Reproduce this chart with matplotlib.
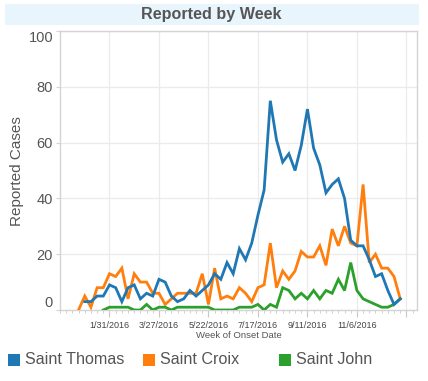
import numpy as np
import pandas as pd
import matplotlib
matplotlib.use("Agg")
import matplotlib.pyplot as plt
import matplotlib.dates as mdates
from matplotlib.patches import Rectangle

plt.rcParams['font.family'] = ['Liberation Sans', 'DejaVu Sans']

# ---- data (weekly, starting 2015-12-27) ----
start_week = "2015-12-27"
n_weeks = 53
nan = np.nan
saint_thomas = [nan, 3, 3, 5, 5, 9, 8, 3, 8, 9, 4, 6, 5, 11, 10, 5, 3, 4, 7, 5, 7, 9, 13, 11,
                17, 13, 22, 18, 24, 34, 43, 75, 61, 53, 56, 50, 59, 72, 58, 52, 42, 45, 47,
                40, 25, 23, 23, 18, 12, 13, 7, 2, 4]
saint_croix = [0, 5, 1, 8, 8, 13, 12, 15, 4, 13, 10, 10, 6, 6, 2, 4, 6, 6, 6, 6, 13, 2, 15, 4,
               5, 4, 8, 6, 3, 8, 9, 24, 8, 14, 11, 14, 21, 19, 19, 23, 16, 29, 23, 30, 24, 23,
               45, 17, 20, 15, 15, 12, 4]
saint_john = [nan, nan, nan, nan, 0, 1, 1, 1, 1, 0, 0, 2, 0, 1, 1, 0, 1, 1, 1, 1, 1, 1, 0, 0,
              0, 0, 1, 1, 1, 2, 0, 2, 1, 8, 7, 4, 6, 4, 7, 4, 7, 6, 11, 7, 17, 7, 4, 3, 2, 1,
              1, 2, 4]
tick_dates = ["2016-01-31", "2016-03-27", "2016-05-22", "2016-07-17", "2016-09-11", "2016-11-06"]
tick_labels = ["1/31/2016", "3/27/2016", "5/22/2016", "7/17/2016", "9/11/2016", "11/6/2016"]
y_ticks = [0, 20, 40, 60, 80, 100]
series_names = ["Saint Thomas", "Saint Croix", "Saint John"]
series_colors = ["#1f77b4", "#ff7f0e", "#2ca02c"]

weeks = pd.date_range(start_week, periods=n_weeks, freq="7D")

W, H = 428, 381
fig = plt.figure(figsize=(W / 100, H / 100), dpi=100)
fig.patch.set_facecolor("white")

# title bar
fig.patches.append(Rectangle((5 / W, 1 - 25 / H), 414 / W, 21 / H, transform=fig.transFigure,
                             facecolor="#e8f5fd", edgecolor="none", zorder=0))
fig.text(211 / W, 1 - 14.5 / H, "Reported by Week", ha="center", va="center",
         fontsize=11.6, fontweight="bold", color="#555555")

ax = fig.add_axes([60 / W, 1 - 310 / H, 357 / W, 279 / H])

ax.plot(weeks, saint_croix, color=series_colors[1], lw=2.0, zorder=3, solid_joinstyle="miter")
ax.plot(weeks, saint_john, color=series_colors[2], lw=2.0, zorder=3, solid_joinstyle="miter")
ax.plot(weeks, saint_thomas, color=series_colors[0], lw=2.0, zorder=4, solid_joinstyle="miter")

ax.set_ylim(0, 100)
ax.set_xlim(pd.Timestamp("2015-12-06"), pd.Timestamp("2017-01-13"))

ax.set_yticks(y_ticks)
ax.set_yticklabels([str(v) for v in y_ticks])
major = list(pd.to_datetime(tick_dates)) + [pd.Timestamp("2017-01-01")]
ax.set_xticks(major)
ax.set_xticklabels(tick_labels + [""])
ax.xaxis.set_minor_locator(mdates.WeekdayLocator(byweekday=mdates.SU, interval=1))

ax.grid(True, which="major", color="#ebebeb", lw=0.9)
ax.set_axisbelow(True)
for s in ax.spines.values():
    s.set_color("#d4d4d4")
    s.set_linewidth(1.0)

ax.tick_params(axis="y", labelsize=10.5, colors="#d4d4d4", labelcolor="#555555", length=3, pad=2)
ax.tick_params(axis="x", which="major", labelsize=6.5, colors="#c8c8c8", labelcolor="#444444",
               length=5, pad=3)
ax.tick_params(axis="x", which="minor", colors="#c8c8c8", length=2.5)

for lbl in ax.get_yticklabels():
    if lbl.get_text() == "0":
        lbl.set_va("bottom")
    elif lbl.get_text() == "100":
        lbl.set_va("top")

fig.text(17 / W, 1 - 171 / H, "Reported Cases", rotation=90, ha="center", va="center",
         fontsize=11, color="#555555")
fig.text(239 / W, 1 - 335 / H, "Week of Onset Date", ha="center", va="center",
         fontsize=6.8, color="#555555")

# legend
leg_x = [8, 143, 279]
for x0, name, col in zip(leg_x, series_names, series_colors):
    fig.patches.append(Rectangle((x0 / W, 1 - 366 / H), 11.5 / W, 12 / H, transform=fig.transFigure,
                                 facecolor=col, edgecolor="none"))
    fig.text((x0 + 17) / W, 1 - 360 / H, name, ha="left", va="center", fontsize=11.6, color="#555555")

fig.savefig("out.png", dpi=100)
